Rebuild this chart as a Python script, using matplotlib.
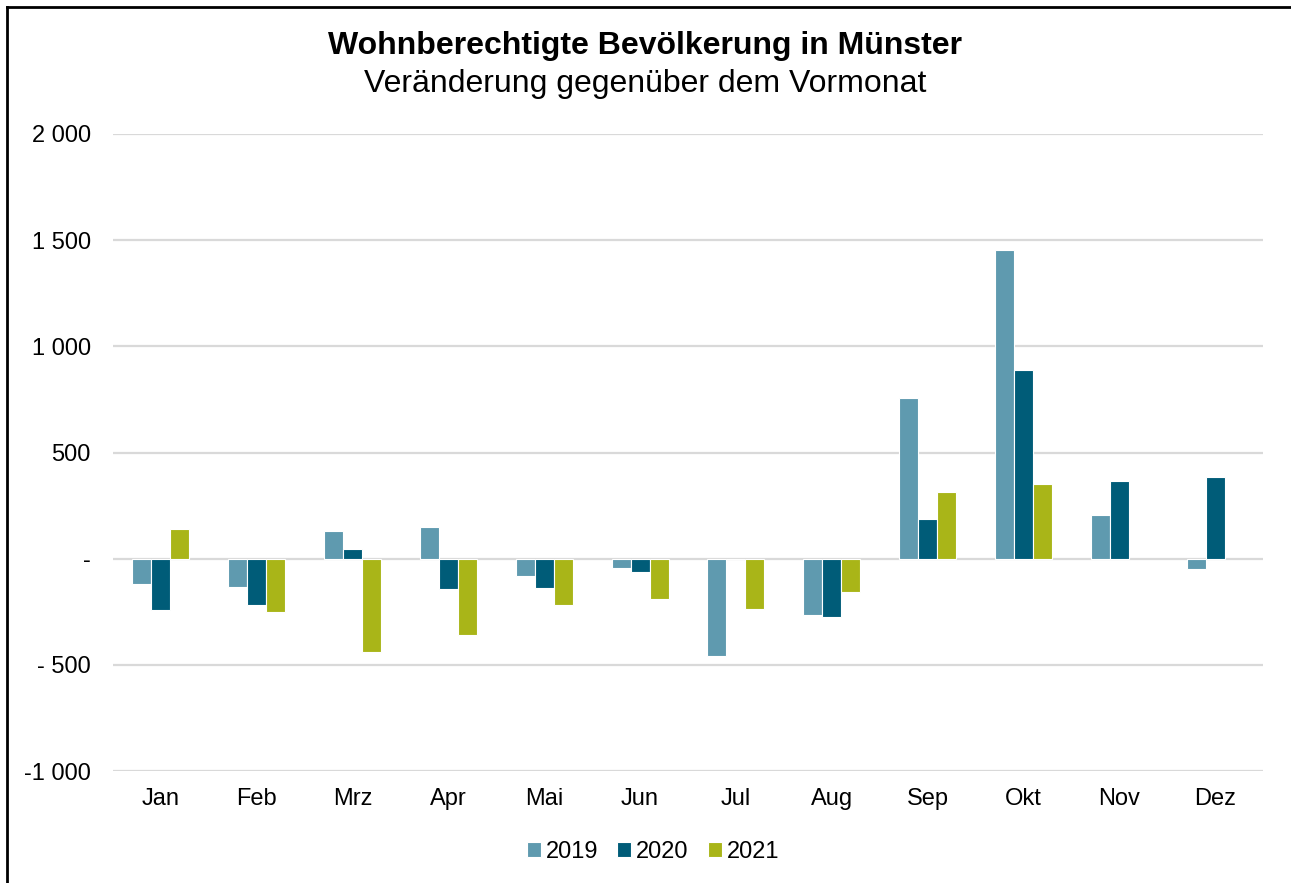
import numpy as np
import matplotlib.pyplot as plt
from matplotlib.lines import Line2D

plt.rcParams['font.family'] = ['Liberation Sans', 'DejaVu Sans']

months = ['Jan', 'Feb', 'Mrz', 'Apr', 'Mai', 'Jun', 'Jul', 'Aug', 'Sep', 'Okt', 'Nov', 'Dez']
v2019 = [-120, -135, 131, 150, -80, -44, -460, -266, 755, 1453, 204, -47]
v2020 = [-243, -220, 44, -144, -139, -64, 0, -277, 187, 887, 364, 383]
v2021 = [141, -252, -441, -360, -219, -190, -237, -158, 314, 350, np.nan, np.nan]
years = ['2019', '2020', '2021']
colors = ['#5F9AAF', '#005C78', '#A9B518']

yticks = [-1000, -500, 0, 500, 1000, 1500, 2000]
ytick_labels = ['-1 000', '- 500', '-', '500', '1 000', '1 500', '2 000']

fig = plt.figure(figsize=(12.91, 8.83), dpi=100)
ax = fig.add_axes([113 / 1291, 1 - 771 / 883, 1150 / 1291, 637 / 883])

x = np.arange(len(months))
w = 0.198
for i, (vals, col, lab) in enumerate(zip([v2019, v2020, v2021], colors, years)):
    ax.bar(x + (i - 1) * w, vals, width=w, color=col, edgecolor='white',
           linewidth=0.8, label=lab, zorder=3)

ax.set_xlim(-0.5, len(months) - 0.5)
ax.set_ylim(-1000, 2000)
ax.set_yticks(yticks)
ax.set_yticklabels(ytick_labels)
ax.set_xticks(x)
ax.set_xticklabels(months)
ax.grid(axis='y', color='#D9D9D9', linewidth=1.6, zorder=0)
for s in ax.spines.values():
    s.set_visible(False)
ax.tick_params(axis='both', length=0, labelsize=17, colors='black')
ax.tick_params(axis='y', pad=16)
ax.tick_params(axis='x', pad=12)

fig.text(0.5, 1 - 46 / 883, 'Wohnberechtigte Bevölkerung in Münster', ha='center',
         va='center', fontsize=23, fontweight='bold')
fig.text(0.5, 1 - 84 / 883, 'Veränderung gegenüber dem Vormonat', ha='center',
         va='center', fontsize=23)

leg = fig.legend(loc='center', bbox_to_anchor=(653 / 1291, 1 - 852 / 883), ncol=3,
                 frameon=False, fontsize=17, handlelength=0.6, handleheight=0.6,
                 handletextpad=0.2, columnspacing=0.8)

# frame (only top and left edges visible in the original)
fig.add_artist(Line2D([7 / 1291, 7 / 1291], [0, 1 - 7 / 883], color='black', lw=2,
                      transform=fig.transFigure))
fig.add_artist(Line2D([7 / 1291, 1], [1 - 7 / 883, 1 - 7 / 883], color='black', lw=2,
                      transform=fig.transFigure))

fig.savefig('out.png', dpi=100)
